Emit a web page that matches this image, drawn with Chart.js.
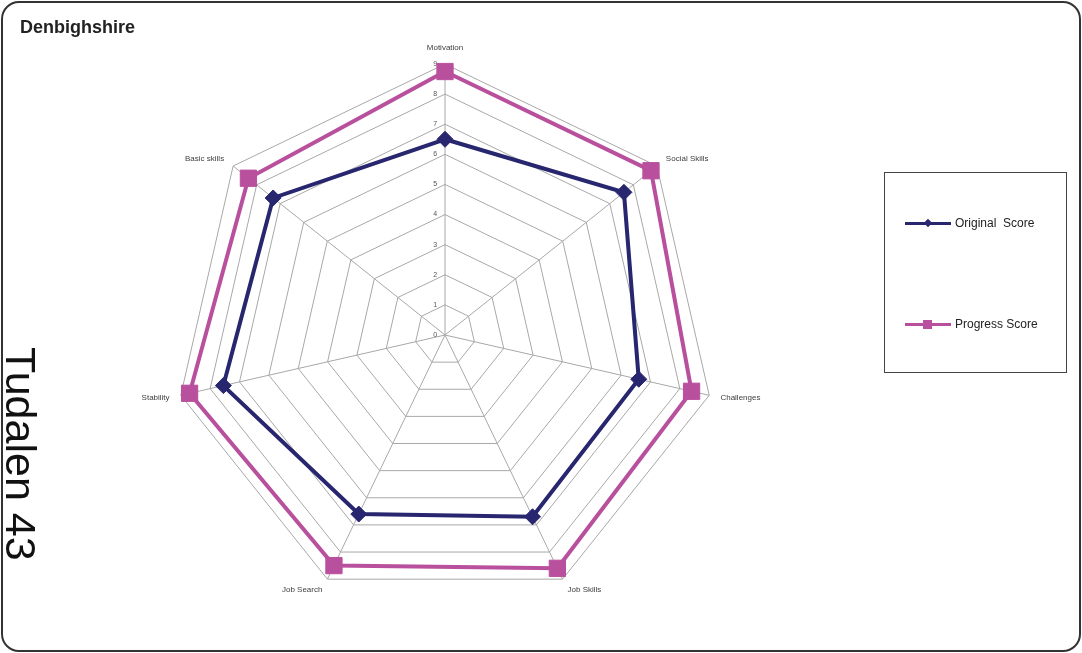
<!DOCTYPE html>
<html>
<head>
<meta charset="utf-8">
<script src="https://cdn.jsdelivr.net/npm/chart.js@4/dist/chart.umd.min.js"></script>
<style>
  html, body { margin: 0; padding: 0; background: #fff; }
  body { width: 1082px; height: 653px; position: relative; overflow: hidden; font-family: "Liberation Sans", Arial, sans-serif; }
  #frame { position: absolute; left: 1px; top: 1px; width: 1076px; height: 647px; border: 2px solid #333; border-radius: 18px; }
  #title { position: absolute; left: 20px; top: 16px; font-size: 18px; font-weight: bold; color: #222; line-height: 22px; }
  #side { position: absolute; left: 42px; top: 347px; font-size: 43px; line-height: 43px; color: #111; transform-origin: 0 0; transform: rotate(90deg); white-space: nowrap; }
  #chart { position: absolute; left: 0; top: 0; }
  #legend { position: absolute; left: 884px; top: 172px; width: 181px; height: 199px; border: 1px solid #444; }
  .item { position: absolute; left: 20px; height: 14px; }
  .line { position: absolute; left: 0; width: 46px; height: 3px; }
  .mark { position: absolute; }
  .lbl { position: absolute; left: 50px; top: -8px; font-size: 12px; color: #222; white-space: pre; line-height: 16px; }
</style>
</head>
<body>
<canvas id="chart" width="1082" height="653"></canvas>
<div id="frame"></div>
<div id="title">Denbighshire</div>
<div id="side">Tudalen 43</div>
<div id="legend"></div>
<script>
const categories = ['Motivation', 'Social Skills', 'Challenges', 'Job Skills', 'Job Search', 'Stability', 'Basic skills'];
const originalScore = [6.5, 7.6, 6.6, 6.7, 6.6, 7.55, 7.3];
const progressScore = [8.75, 8.75, 8.4, 8.6, 8.5, 8.7, 8.35];
const tickValues = [0, 1, 2, 3, 4, 5, 6, 7, 8, 9];
const seriesNames = ['Original  Score', 'Progress Score'];
const seriesColors = ['#27266f', '#b9509e'];

const CX = 445, CY = 335, R = 271;

function placeScale(scale) {
  const dR = R - scale.drawingArea;
  const dx = CX - scale.xCenter;
  const dy = CY - scale.yCenter;
  (scale._pointLabelItems || []).forEach((it, i) => {
    const a = scale.getIndexAngle(i) - Math.PI / 2;
    const ox = dx + dR * Math.cos(a);
    let oy = dy + dR * Math.sin(a);
    // centre side labels vertically on their spoke direction
    const deg = Math.round(scale.getIndexAngle(i) * 180 / Math.PI) % 360;
    const h = it.bottom - it.top;
    if (deg !== 0 && deg !== 180 && deg !== 90 && deg !== 270) {
      oy += (deg < 90 || deg > 270) ? h / 2 : -h / 2;
    }
    it.x += ox; it.left += ox; it.right += ox;
    it.y += oy; it.top += oy; it.bottom += oy;
  });
  scale.xCenter = CX;
  scale.yCenter = CY;
  scale.drawingArea = R;
}

new Chart(document.getElementById('chart'), {
  type: 'radar',
  data: {
    labels: categories,
    datasets: [
      {
        label: seriesNames[0],
        data: originalScore,
        borderColor: seriesColors[0],
        backgroundColor: seriesColors[0],
        borderWidth: 4,
        fill: false,
        pointStyle: 'rectRot',
        pointRadius: 8,
        pointBorderWidth: 1,
        pointBackgroundColor: seriesColors[0],
        pointBorderColor: seriesColors[0]
      },
      {
        label: seriesNames[1],
        data: progressScore,
        borderColor: seriesColors[1],
        backgroundColor: seriesColors[1],
        borderWidth: 4,
        fill: false,
        pointStyle: 'rect',
        pointRadius: 11.5,
        pointBorderWidth: 1,
        pointBackgroundColor: seriesColors[1],
        pointBorderColor: seriesColors[1]
      }
    ]
  },
  options: {
    responsive: false,
    devicePixelRatio: 1,
    animation: false,
    layout: { padding: 0 },
    plugins: { legend: { display: false }, tooltip: { enabled: false }, title: { display: false } },
    elements: { line: { tension: 0 } },
    scales: {
      r: {
        min: 0,
        max: 9,
        beginAtZero: true,
        // the first tick is never labelled by the radial scale, so the 0 tick is repeated
        afterBuildTicks(scale) { scale.ticks = [tickValues[0]].concat(tickValues).map(v => ({ value: v })); },
        afterFit: placeScale,
        grid: { color: '#a8a8a8', lineWidth: 1, circular: false },
        angleLines: { display: true, color: '#a8a8a8', lineWidth: 1 },
        ticks: {
          display: true,
          showLabelBackdrop: false,
          backdropPadding: 0,
          color: '#555',
          font: { family: '"Liberation Sans", Arial, sans-serif', size: 7 },
          callback: (v) => String(v) + '          '
        },
        pointLabels: {
          display: true,
          padding: 8,
          color: '#404040',
          font: { family: '"Liberation Sans", Arial, sans-serif', size: 8 }
        }
      }
    }
  }
});

// HTML legend built from the series names/colours
const legend = document.getElementById('legend');
const tops = [50, 151];
seriesNames.forEach((name, i) => {
  const item = document.createElement('div');
  item.className = 'item';
  item.style.top = tops[i] + 'px';
  const line = document.createElement('div');
  line.className = 'line';
  line.style.background = seriesColors[i];
  line.style.top = '-1px';
  item.appendChild(line);
  const mark = document.createElement('div');
  mark.className = 'mark';
  mark.style.background = seriesColors[i];
  if (i === 0) {
    mark.style.width = '6px'; mark.style.height = '6px';
    mark.style.left = '20px'; mark.style.top = '-3px';
    mark.style.transform = 'rotate(45deg)';
  } else {
    mark.style.width = '9px'; mark.style.height = '9px';
    mark.style.left = '18px'; mark.style.top = '-4px';
  }
  item.appendChild(mark);
  const lbl = document.createElement('div');
  lbl.className = 'lbl';
  lbl.textContent = name;
  item.appendChild(lbl);
  legend.appendChild(item);
});
</script>
</body>
</html>
